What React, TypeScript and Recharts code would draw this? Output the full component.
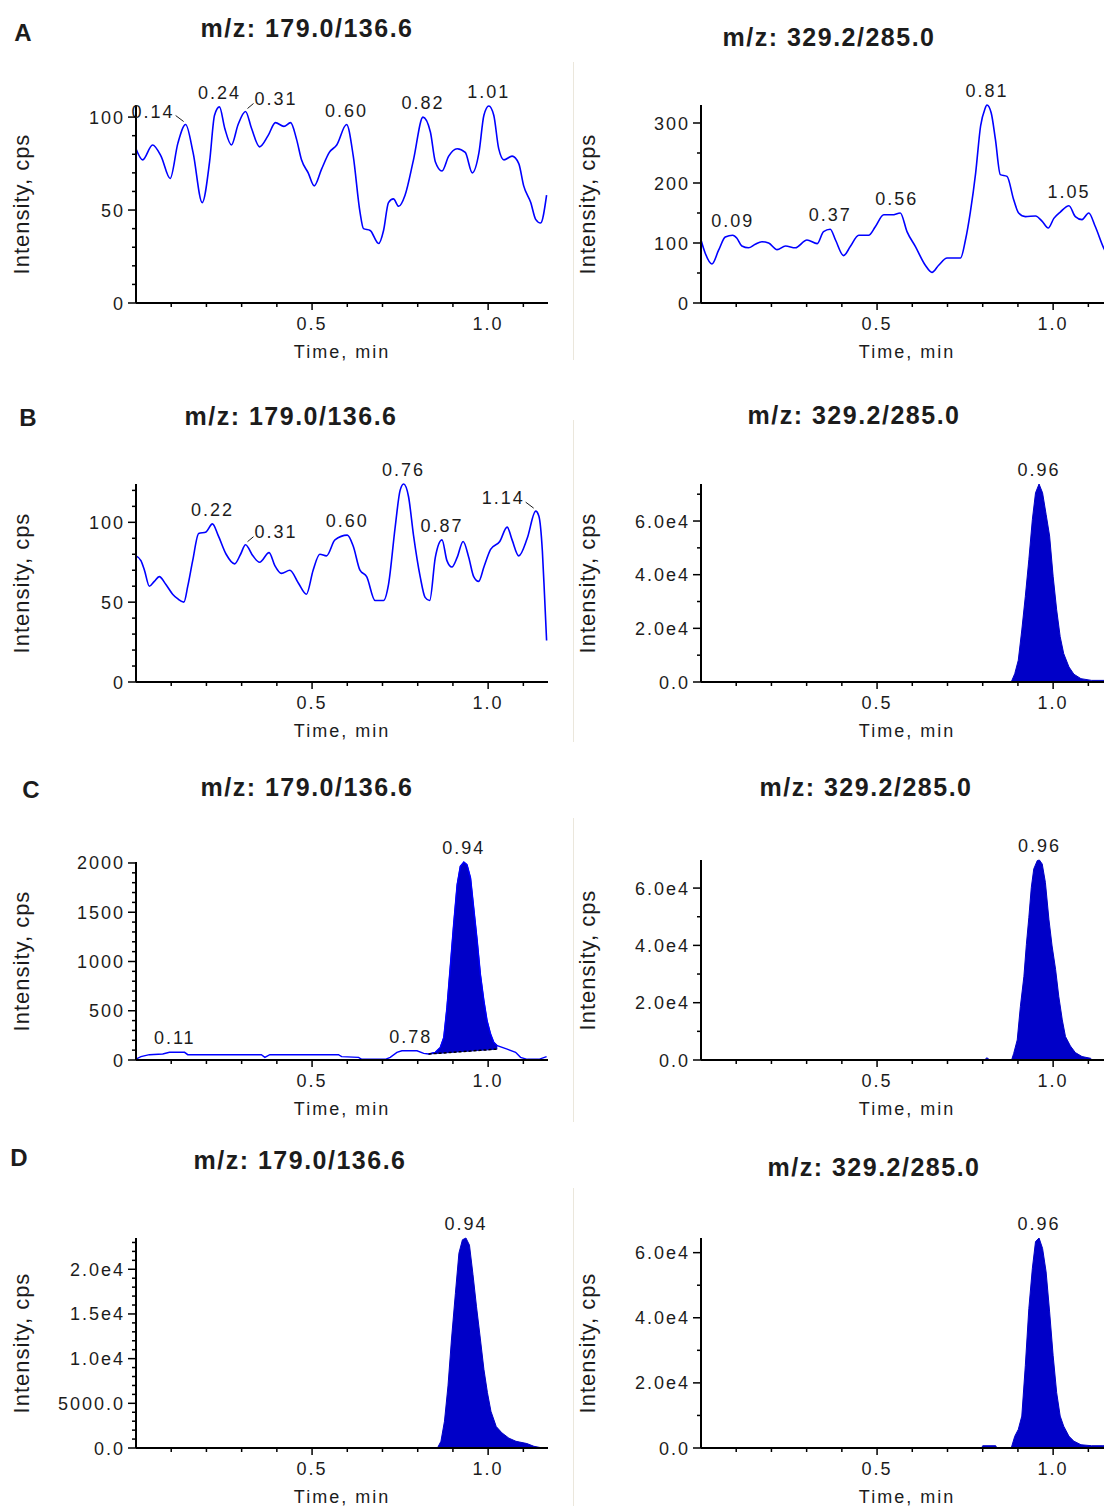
import React from 'react';
import { ComposedChart, Line, Area, Scatter, XAxis, YAxis } from 'recharts';

// shared time axis (min)
const timeDomain = [0, 1.17];
const timeTicks = [0.1, 0.2, 0.3, 0.4, 0.5, 0.6, 0.7, 0.8, 0.9, 1.0, 1.1];
const timeMajorTicks = [0.5, 1.0];
const timeTickLabels = ['0.5', '1.0'];

// A - m/z 179.0/136.6
const aLeftTime = [0, 0.019, 0.047, 0.071, 0.097, 0.119, 0.141, 0.162, 0.188, 0.209, 0.223, 0.237, 0.252, 0.271, 0.29, 0.311, 0.328, 0.351, 0.375, 0.396, 0.42, 0.439, 0.456, 0.47, 0.489, 0.506, 0.527, 0.549, 0.57, 0.598, 0.617, 0.636, 0.646, 0.665, 0.689, 0.703, 0.717, 0.731, 0.746, 0.764, 0.788, 0.815, 0.836, 0.85, 0.869, 0.888, 0.912, 0.935, 0.955, 0.974, 0.988, 1.002, 1.016, 1.03, 1.045, 1.068, 1.087, 1.101, 1.121, 1.135, 1.149, 1.166];
const aLeftIntensity = [83, 77, 85, 79, 67, 86, 96, 81, 54, 76, 101, 105.5, 94, 85, 96, 103, 94, 84, 90, 97, 95, 97, 88, 77, 70, 63, 72, 81, 85, 96, 79, 49, 40, 39, 32, 39, 54, 56, 52, 58, 77, 100, 92, 76, 71, 79, 83, 81, 70, 81, 101, 106, 101, 83, 77, 79, 75, 63, 54, 45, 43, 58];
const aLeftPeakText = ['0.14', '0.24', '0.31', '0.60', '0.82', '1.01'];
const aLeftPeakTime = [0.141, 0.237, 0.311, 0.598, 0.815, 1.002];
const aLeftPeakHeight = [96, 105.5, 103, 96, 100, 106];
const aLeftYTicks = [0, 10, 20, 30, 40, 50, 60, 70, 80, 90, 100];
const aLeftYMajor = [0, 50, 100];
const aLeftYLabels = ['0', '50', '100'];

// A - m/z 329.2/285.0
const aRightTime = [0, 0.012, 0.031, 0.05, 0.069, 0.09, 0.102, 0.116, 0.135, 0.154, 0.173, 0.192, 0.216, 0.24, 0.268, 0.301, 0.33, 0.348, 0.367, 0.382, 0.405, 0.424, 0.448, 0.476, 0.495, 0.519, 0.543, 0.566, 0.585, 0.609, 0.637, 0.656, 0.675, 0.699, 0.737, 0.751, 0.765, 0.78, 0.794, 0.806, 0.812, 0.824, 0.836, 0.85, 0.869, 0.888, 0.902, 0.921, 0.95, 0.969, 0.986, 1.002, 1.021, 1.045, 1.063, 1.082, 1.101, 1.12, 1.144, 1.166];
const aRightIntensity = [105, 83, 65, 88, 110, 113, 108, 95, 92, 98, 102, 100, 89, 95, 92, 105, 99, 119, 123, 105, 79, 94, 113, 113, 127, 147, 147, 150, 119, 94, 63, 51, 63, 75, 75, 105, 152, 217, 295, 323, 330, 317, 273, 214, 211, 172, 150, 144, 145, 136, 125, 141, 152, 162, 144, 139, 150, 127, 91, 70];
const aRightPeakText = ['0.09', '0.37', '0.56', '0.81', '1.05'];
const aRightPeakTime = [0.09, 0.367, 0.556, 0.812, 1.045];
const aRightPeakHeight = [113, 123, 150, 330, 162];
const aRightYTicks = [0, 50, 100, 150, 200, 250, 300];
const aRightYMajor = [0, 100, 200, 300];
const aRightYLabels = ['0', '100', '200', '300'];

// B - m/z 179.0/136.6
const bLeftTime = [0, 0.014, 0.024, 0.038, 0.052, 0.066, 0.085, 0.104, 0.119, 0.136, 0.147, 0.161, 0.178, 0.199, 0.217, 0.233, 0.256, 0.28, 0.297, 0.311, 0.332, 0.351, 0.378, 0.394, 0.413, 0.437, 0.461, 0.484, 0.503, 0.522, 0.541, 0.565, 0.6, 0.617, 0.636, 0.655, 0.679, 0.703, 0.717, 0.736, 0.75, 0.76, 0.774, 0.788, 0.807, 0.821, 0.834, 0.85, 0.869, 0.883, 0.897, 0.912, 0.929, 0.945, 0.959, 0.973, 0.988, 1.007, 1.033, 1.054, 1.068, 1.087, 1.111, 1.135, 1.144, 1.154, 1.16, 1.166];
const bLeftIntensity = [79, 76, 70, 60, 63, 66, 61, 55, 52, 50, 60, 76, 93, 94, 99, 92, 80, 74, 80, 86, 79, 75, 81, 73, 68, 70, 62, 55, 70, 80, 79, 89, 92, 85, 70, 66, 51, 51, 61, 97, 120, 124, 116, 92, 66, 53, 51, 78, 89, 76, 72, 78, 88, 78, 66, 63, 72, 83, 88, 97, 89, 79, 90, 107, 104, 82, 55, 26];
const bLeftPeakText = ['0.22', '0.31', '0.60', '0.76', '0.87', '1.14'];
const bLeftPeakTime = [0.217, 0.311, 0.6, 0.76, 0.869, 1.135];
const bLeftPeakHeight = [99, 86, 92, 124, 89, 107];
const bLeftYTicks = [0, 10, 20, 30, 40, 50, 60, 70, 80, 90, 100, 110, 120];
const bLeftYMajor = [0, 50, 100];
const bLeftYLabels = ['0', '50', '100'];

// B - m/z 329.2/285.0
const bRightTime = [0, 0.881, 0.891, 0.901, 0.911, 0.921, 0.931, 0.941, 0.95, 0.96, 0.97, 0.98, 0.99, 1.0, 1.01, 1.02, 1.03, 1.045, 1.059, 1.079, 1.109, 1.17];
const bRightIntensity = [0, 0, 3100, 8100, 19400, 31900, 45600, 60600, 70500, 73800, 70500, 62500, 54400, 39400, 26900, 16900, 10600, 5600, 2900, 1250, 600, 600];
const bRightPeakText = ['0.96'];
const bRightPeakTime = [0.96];
const bRightPeakHeight = [73800];
const bRightYTicks = [0, 10000, 20000, 30000, 40000, 50000, 60000, 70000];
const bRightYMajor = [0, 20000, 40000, 60000];
const bRightYLabels = ['0.0', '2.0e4', '4.0e4', '6.0e4'];

// C - m/z 179.0/136.6 (integrated peak with baseline)
const cLeftTime = [0, 0.014, 0.038, 0.076, 0.095, 0.138, 0.147, 0.266, 0.356, 0.366, 0.38, 0.575, 0.584, 0.632, 0.641, 0.708, 0.722, 0.741, 0.755, 0.798, 0.817, 0.831, 0.85, 0.864, 0.874, 0.883, 0.893, 0.902, 0.912, 0.921, 0.931, 0.94, 0.95, 0.959, 0.969, 0.978, 0.988, 0.997, 1.007, 1.016, 1.026, 1.054, 1.078, 1.092, 1.111, 1.144, 1.166];
const cLeftIntensity = [10, 34, 54, 61, 78, 78, 54, 54, 54, 27, 54, 54, 34, 27, 7, 7, 27, 78, 94, 94, 67, 61, 78, 128, 229, 533, 971, 1376, 1781, 1966, 2010, 1983, 1848, 1545, 1207, 870, 600, 398, 263, 179, 145, 111, 78, 27, 7, 7, 34];
const cLeftBaseline = [null, null, null, null, null, null, null, null, null, null, null, null, null, null, null, null, null, null, null, null, null, 61, 66, 69, 72, 74, 77, 79, 82, 84, 87, 89, 91, 94, 96, 99, 101, 103, 106, 108, 111, null, null, null, null, null, null];
const cLeftPeakText = ['0.11', '0.78', '0.94'];
const cLeftPeakTime = [0.11, 0.78, 0.931];
const cLeftPeakHeight = [78, 94, 2010];
const cLeftYTicks = [0, 100, 200, 300, 400, 500, 600, 700, 800, 900, 1000, 1100, 1200, 1300, 1400, 1500, 1600, 1700, 1800, 1900, 2000];
const cLeftYMajor = [0, 500, 1000, 1500, 2000];
const cLeftYLabels = ['0', '500', '1000', '1500', '2000'];

// C - m/z 329.2/285.0
const cRightTime = [0, 0.79, 0.805, 0.812, 0.82, 0.835, 0.882, 0.888, 0.898, 0.907, 0.917, 0.924, 0.931, 0.938, 0.945, 0.955, 0.961, 0.969, 0.978, 0.988, 0.997, 1.007, 1.016, 1.026, 1.035, 1.049, 1.063, 1.082, 1.106, 1.111, 1.17];
const cRightIntensity = [0, 0, 0, 800, 0, 0, 0, 2300, 7000, 18700, 29200, 40300, 49700, 60200, 66700, 69600, 69800, 68400, 62000, 49100, 39800, 31600, 22200, 14000, 8200, 4900, 2600, 1200, 600, 0, 0];
const cRightPeakText = ['0.96'];
const cRightPeakTime = [0.961];
const cRightPeakHeight = [69800];
const cRightYTicks = [0, 10000, 20000, 30000, 40000, 50000, 60000];
const cRightYMajor = [0, 20000, 40000, 60000];
const cRightYLabels = ['0.0', '2.0e4', '4.0e4', '6.0e4'];

// D - m/z 179.0/136.6
const dLeftTime = [0, 0.856, 0.866, 0.876, 0.886, 0.896, 0.907, 0.917, 0.927, 0.937, 0.947, 0.957, 0.967, 0.978, 0.988, 0.998, 1.008, 1.023, 1.039, 1.059, 1.079, 1.11, 1.13, 1.155, 1.17];
const dLeftIntensity = [0, 0, 750, 3000, 6950, 12200, 17300, 21800, 23300, 23500, 22700, 19400, 15800, 12200, 8800, 6200, 4100, 2400, 1700, 1100, 750, 500, 190, 0, 0];
const dLeftPeakText = ['0.94'];
const dLeftPeakTime = [0.937];
const dLeftPeakHeight = [23500];
const dLeftYTicks = [0, 1000, 2000, 3000, 4000, 5000, 6000, 7000, 8000, 9000, 10000, 11000, 12000, 13000, 14000, 15000, 16000, 17000, 18000, 19000, 20000, 21000, 22000, 23000];
const dLeftYMajor = [0, 5000, 10000, 15000, 20000];
const dLeftYLabels = ['0.0', '5000.0', '1.0e4', '1.5e4', '2.0e4'];

// D - m/z 329.2/285.0
const dRightTime = [0, 0.797, 0.8, 0.837, 0.84, 0.881, 0.891, 0.901, 0.911, 0.921, 0.931, 0.941, 0.95, 0.96, 0.97, 0.98, 0.99, 1.0, 1.01, 1.02, 1.03, 1.045, 1.059, 1.079, 1.109, 1.139, 1.17];
const dRightIntensity = [0, 0, 700, 700, 0, 0, 3600, 5700, 9800, 25300, 42800, 55200, 63400, 64500, 61300, 54100, 41800, 28400, 17000, 9800, 6700, 3600, 2100, 1000, 700, 700, 700];
const dRightPeakText = ['0.96'];
const dRightPeakTime = [0.96];
const dRightPeakHeight = [64500];
const dRightYTicks = [0, 10000, 20000, 30000, 40000, 50000, 60000];
const dRightYMajor = [0, 20000, 40000, 60000];
const dRightYLabels = ['0.0', '2.0e4', '4.0e4', '6.0e4'];

const TRACE = '#0000ff';
const FILL = '#0000c8';
const TEXT = '#1c1c1c';
const FONT = '"Liberation Sans", Arial, Helvetica, sans-serif';

const PLOT_W = 412;
const Y_W = 80;
const M_TOP = 40;
const M_RIGHT = 12;
const X_H = 70;

type Row = { t: number; v: number; base: number | null };
type PeakRow = { t: number; v: number; text: string; side: 'left' | 'right' | 'center' };

const toRows = (t: number[], v: number[], base?: (number | null)[]): Row[] =>
  t.map((x, i) => ({ t: x, v: v[i], base: base ? base[i] : null }));

const toPeaks = (text: string[], t: number[], v: number[], leftSide: string[] = [], rightSide: string[] = []): PeakRow[] =>
  text.map((s, i) => ({
    t: t[i],
    v: v[i],
    text: s,
    side: leftSide.includes(s) ? 'left' : rightSide.includes(s) ? 'right' : 'center',
  }));

const svgText = { fontFamily: FONT, fontSize: 18, letterSpacing: 2, fill: TEXT } as const;

const XTick = (props: any) => {
  const { x, y, payload } = props;
  const i = timeMajorTicks.findIndex((m) => Math.abs(m - Number(payload.value)) < 1e-6);
  return (
    <g>
      <line x1={x} x2={x} y1={y} y2={y + (i >= 0 ? 7 : 4)} stroke="#000" strokeWidth={1.5} />
      {i >= 0 && (
        <text x={x} y={y + 27} textAnchor="middle" style={svgText}>
          {timeTickLabels[i]}
        </text>
      )}
    </g>
  );
};

const PeakLabel = (props: any) => {
  const { cx, cy, payload } = props;
  if (cx == null || cy == null) return null;
  if (payload.side === 'left') {
    return (
      <g>
        <text x={cx - 11} y={cy - 7} textAnchor="end" style={svgText}>{payload.text}</text>
        <line x1={cx - 10} y1={cy - 9} x2={cx - 2} y2={cy - 3} stroke={TEXT} strokeWidth={1} />
      </g>
    );
  }
  if (payload.side === 'right') {
    return (
      <g>
        <line x1={cx + 2} y1={cy - 3} x2={cx + 8} y2={cy - 8} stroke={TEXT} strokeWidth={1} />
        <text x={cx + 9} y={cy - 7} textAnchor="start" style={svgText}>{payload.text}</text>
      </g>
    );
  }
  return (
    <text x={cx} y={cy - 8} textAnchor="middle" style={svgText}>{payload.text}</text>
  );
};

type PanelProps = {
  left: number;
  top: number;
  plotH: number;
  rows: Row[];
  peaks: PeakRow[];
  yMax: number;
  yTicks: number[];
  yMajor: number[];
  yLabels: string[];
  kind: 'trace' | 'filled' | 'mixed';
  title: string;
  titleX: number;
  titleY: number;
  yTitleX: number;
};

const Panel: React.FC<PanelProps> = (p) => {
  const { left, top, plotH, rows, peaks, yMax, yTicks, yMajor, yLabels, kind } = p;
  const bottom = top + plotH;

  const yTick = (t: any) => {
    const val = Number(t.payload.value);
    const i = yMajor.findIndex((m) => Math.abs(m - val) < 1e-6);
    return (
      <g>
        <line x1={t.x - (i >= 0 ? 8 : 4)} x2={t.x} y1={t.y} y2={t.y} stroke="#000" strokeWidth={1.5} />
        {i >= 0 && (
          <text x={t.x - 11} y={t.y + 6.5} textAnchor="end" style={svgText}>
            {yLabels[i]}
          </text>
        )}
      </g>
    );
  };

  return (
    <>
      <div style={{ position: 'absolute', left: left - Y_W, top: top - M_TOP }}>
        <ComposedChart
          width={Y_W + PLOT_W + M_RIGHT}
          height={M_TOP + plotH + X_H}
          data={rows}
          margin={{ top: M_TOP, right: M_RIGHT, bottom: 0, left: 0 }}
        >
          <XAxis
            type="number"
            dataKey="t"
            domain={timeDomain}
            ticks={timeTicks}
            interval={0}
            tickSize={0}
            tickMargin={0}
            tickLine={false}
            axisLine={{ stroke: '#000', strokeWidth: 2 }}
            tick={XTick}
            height={X_H}
          />
          <YAxis
            type="number"
            domain={[0, yMax]}
            ticks={yTicks}
            interval={0}
            tickSize={0}
            tickMargin={0}
            tickLine={false}
            axisLine={{ stroke: '#000', strokeWidth: 2 }}
            tick={yTick}
            width={Y_W}
          />
          {kind === 'trace' && (
            <Line type="monotone" dataKey="v" stroke={TRACE} strokeWidth={1.6} dot={false} activeDot={false} isAnimationActive={false} />
          )}
          {kind === 'filled' && (
            <Area type="linear" dataKey="v" stroke={FILL} strokeWidth={1} fill={FILL} fillOpacity={1} dot={false} activeDot={false} isAnimationActive={false} />
          )}
          {kind === 'mixed' && (
            <Line type="linear" dataKey="v" stroke={TRACE} strokeWidth={1.4} dot={false} activeDot={false} isAnimationActive={false} />
          )}
          {kind === 'mixed' && (
            <Area
              type="linear"
              dataKey={(d: Row) => (d.base == null ? null : [d.base, d.v])}
              stroke={FILL}
              strokeWidth={1}
              fill={FILL}
              fillOpacity={1}
              dot={false}
              activeDot={false}
              isAnimationActive={false}
            />
          )}
          {kind === 'mixed' && (
            <Line type="linear" dataKey="base" stroke="#000" strokeWidth={1.5} strokeDasharray="3 2" dot={false} activeDot={false} isAnimationActive={false} />
          )}
          <Scatter data={peaks} dataKey="v" shape={PeakLabel} isAnimationActive={false} />
        </ComposedChart>
      </div>
      <div
        style={{
          position: 'absolute',
          left: p.titleX,
          top: p.titleY,
          transform: 'translate(-50%, -50%)',
          fontSize: 25,
          fontWeight: 700,
          letterSpacing: 1.5,
          whiteSpace: 'nowrap',
          color: TEXT,
        }}
      >
        {p.title}
      </div>
      <div
        style={{
          position: 'absolute',
          left: p.yTitleX,
          top: top + plotH / 2,
          transform: 'translate(-50%, -50%) rotate(-90deg)',
          fontSize: 22,
          letterSpacing: 1,
          whiteSpace: 'nowrap',
          color: TEXT,
        }}
      >
        Intensity, cps
      </div>
      <div
        style={{
          position: 'absolute',
          left: left + PLOT_W / 2,
          top: bottom + 49,
          transform: 'translate(-50%, -50%)',
          fontSize: 18,
          letterSpacing: 2,
          whiteSpace: 'nowrap',
          color: TEXT,
        }}
      >
        Time, min
      </div>
    </>
  );
};

const rowLetters = [
  { text: 'A', x: 23, y: 33 },
  { text: 'B', x: 28, y: 418 },
  { text: 'C', x: 31, y: 790 },
  { text: 'D', x: 19, y: 1158 },
];

const separators = [
  { top: 62, bottom: 360 },
  { top: 420, bottom: 742 },
  { top: 818, bottom: 1122 },
  { top: 1188, bottom: 1506 },
];

const T_LEFT = 'm/z: 179.0/136.6';
const T_RIGHT = 'm/z: 329.2/285.0';

export default function App() {
  return (
    <div
      style={{
        position: 'absolute',
        left: 0,
        top: 0,
        width: 1104,
        height: 1506,
        overflow: 'hidden',
        background: '#fff',
        fontFamily: FONT,
      }}
    >
      {separators.map((s, i) => (
        <div key={i} style={{ position: 'absolute', left: 573, top: s.top, width: 1, height: s.bottom - s.top, background: '#ebe7dc' }} />
      ))}
      {rowLetters.map((l) => (
        <div
          key={l.text}
          style={{ position: 'absolute', left: l.x, top: l.y, transform: 'translate(-50%, -50%)', fontSize: 24, fontWeight: 700, color: TEXT }}
        >
          {l.text}
        </div>
      ))}

      <Panel left={136} top={105} plotH={198} kind="trace"
        rows={toRows(aLeftTime, aLeftIntensity)}
        peaks={toPeaks(aLeftPeakText, aLeftPeakTime, aLeftPeakHeight, ['0.14'], ['0.31'])}
        yMax={106.5} yTicks={aLeftYTicks} yMajor={aLeftYMajor} yLabels={aLeftYLabels}
        title={T_LEFT} titleX={307} titleY={28} yTitleX={22} />
      <Panel left={701} top={105} plotH={198} kind="trace"
        rows={toRows(aRightTime, aRightIntensity)}
        peaks={toPeaks(aRightPeakText, aRightPeakTime, aRightPeakHeight)}
        yMax={330} yTicks={aRightYTicks} yMajor={aRightYMajor} yLabels={aRightYLabels}
        title={T_RIGHT} titleX={829} titleY={37} yTitleX={588} />

      <Panel left={136} top={484} plotH={198} kind="trace"
        rows={toRows(bLeftTime, bLeftIntensity)}
        peaks={toPeaks(bLeftPeakText, bLeftPeakTime, bLeftPeakHeight, ['1.14'], ['0.31'])}
        yMax={124} yTicks={bLeftYTicks} yMajor={bLeftYMajor} yLabels={bLeftYLabels}
        title={T_LEFT} titleX={291} titleY={416} yTitleX={22} />
      <Panel left={701} top={484} plotH={198} kind="filled"
        rows={toRows(bRightTime, bRightIntensity)}
        peaks={toPeaks(bRightPeakText, bRightPeakTime, bRightPeakHeight)}
        yMax={73800} yTicks={bRightYTicks} yMajor={bRightYMajor} yLabels={bRightYLabels}
        title={T_RIGHT} titleX={854} titleY={415} yTitleX={588} />

      <Panel left={136} top={862} plotH={198} kind="mixed"
        rows={toRows(cLeftTime, cLeftIntensity, cLeftBaseline)}
        peaks={toPeaks(cLeftPeakText, cLeftPeakTime, cLeftPeakHeight)}
        yMax={2010} yTicks={cLeftYTicks} yMajor={cLeftYMajor} yLabels={cLeftYLabels}
        title={T_LEFT} titleX={307} titleY={787} yTitleX={22} />
      <Panel left={701} top={860} plotH={200} kind="filled"
        rows={toRows(cRightTime, cRightIntensity)}
        peaks={toPeaks(cRightPeakText, cRightPeakTime, cRightPeakHeight)}
        yMax={69800} yTicks={cRightYTicks} yMajor={cRightYMajor} yLabels={cRightYLabels}
        title={T_RIGHT} titleX={866} titleY={787} yTitleX={588} />

      <Panel left={136} top={1238} plotH={210} kind="filled"
        rows={toRows(dLeftTime, dLeftIntensity)}
        peaks={toPeaks(dLeftPeakText, dLeftPeakTime, dLeftPeakHeight)}
        yMax={23500} yTicks={dLeftYTicks} yMajor={dLeftYMajor} yLabels={dLeftYLabels}
        title={T_LEFT} titleX={300} titleY={1160} yTitleX={22} />
      <Panel left={701} top={1238} plotH={210} kind="filled"
        rows={toRows(dRightTime, dRightIntensity)}
        peaks={toPeaks(dRightPeakText, dRightPeakTime, dRightPeakHeight)}
        yMax={64500} yTicks={dRightYTicks} yMajor={dRightYMajor} yLabels={dRightYLabels}
        title={T_RIGHT} titleX={874} titleY={1167} yTitleX={588} />
    </div>
  );
}
